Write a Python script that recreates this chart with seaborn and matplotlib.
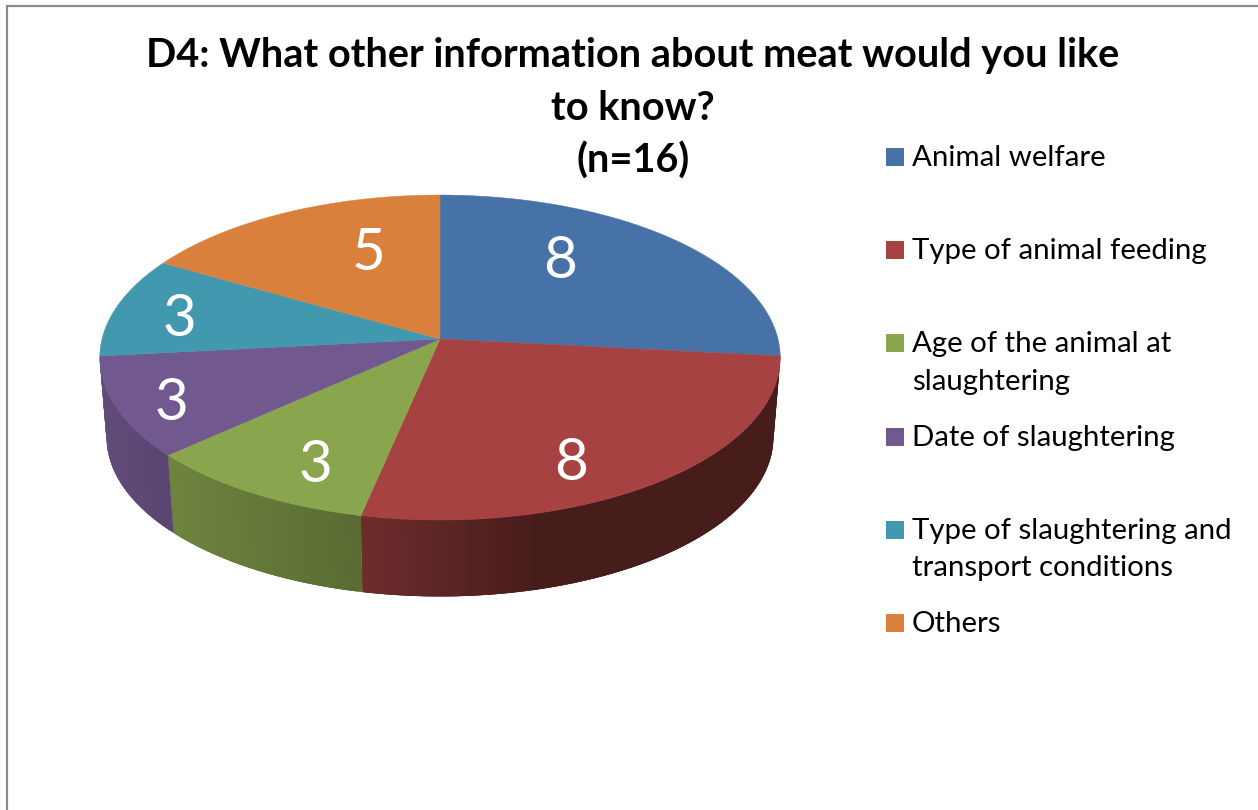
import numpy as np
import matplotlib
matplotlib.use("Agg")
import matplotlib.pyplot as plt
from matplotlib.patches import Rectangle
import seaborn as sns

# ---- data ----
categories = ["Animal welfare", "Type of animal feeding",
              "Age of the animal at\nslaughtering", "Date of slaughtering",
              "Type of slaughtering and\ntransport conditions", "Others"]
values = [8, 8, 3, 3, 3, 5]
colors = ["#4672A8", "#A64342", "#89A54E", "#71588F", "#4198AF", "#D9813C"]
title_lines = ["D4: What other information about meat would you like", "to know?", "(n=16)"]

# ---- layout (pixels) ----
W, H = 1258, 810
CX, CY = 440, 339
A, B, K = 338, 160.4, 0.114
SHRINK, DROP = 0.98, 80
LABEL_XY = [(560, 261), (571, 463), (315, 466), (171, 403), (179, 319), (369, 253)]
SIDE_SHADE = [(0.5, 0.5), (0.66, 0.43), (0.80, 0.65), (0.85, 0.79), (0.8, 0.8), (0.7, 0.7)]
LEG_X, LEG_Y0, LEG_STEP = 886, 157, 93.2
TITLE_BASE, TITLE_STEP = 67, 53

sns.set_theme(style="white")
plt.rcParams["font.family"] = ["Lato", "DejaVu Sans"]
palette = sns.color_palette(colors)


def top_face(t):
    d = 1 + K * np.sin(t)
    return CX + A * np.cos(t) / d, CY - B * np.sin(t) / d


def bottom_face(t):
    x, y = top_face(t)
    return CX + SHRINK * (x - CX), CY + SHRINK * (y - CY) + DROP


fig = plt.figure(figsize=(W / 100, H / 100), dpi=100, facecolor="white")
ax = fig.add_axes([0, 0, 1, 1])
ax.set_xlim(0, W)
ax.set_ylim(H, 0)
ax.axis("off")

# chart frame
ax.plot([6.5, 6.5, W + 5], [H + 5, 5.5, 5.5], color="#8c8c8c", lw=1.6, solid_joinstyle="miter")

# slice angles, clockwise from twelve o'clock
edges = np.pi / 2 - 2 * np.pi * np.cumsum([0] + values) / sum(values)

# rim first, then the top face over it
for i, col in enumerate(palette):
    t0, t1 = edges[i], edges[i + 1]
    # only the front of the pie shows a rim
    lo = max(t1, -np.pi + 0.11)
    hi = min(t0, -0.1)
    if lo >= hi:
        continue
    ts = np.linspace(hi, lo, 71)
    xs = top_face(ts)[0]
    xmin, xmax = xs.min(), xs.max()
    for j in range(len(ts) - 1):
        # each band reaches a little past the next, which then paints over it
        seg = ts[j:min(j + 4, len(ts))]
        xt, yt = top_face(seg)
        xb, yb = bottom_face(seg)
        u = (top_face(ts[j])[0] + top_face(ts[j + 1])[0]) / 2
        u = (u - xmin) / max(xmax - xmin, 1)
        if i == 1:  # red rim darkens then stays flat
            u = min(u / 0.42, 1)
        left, right = SIDE_SHADE[i]
        f = left + (right - left) * u
        c = tuple(f * v for v in col)
        ax.fill(np.r_[xt, xb[::-1]], np.r_[yt, yb[::-1]], color=c, lw=0, zorder=2)

for i, col in enumerate(palette):
    ts = np.linspace(edges[i], edges[i + 1], 200)
    x, y = top_face(ts)
    ax.fill(np.r_[CX, x], np.r_[CY, y], color=col, lw=0.3, zorder=3)
    ax.text(*LABEL_XY[i], str(values[i]), color="white", fontsize=42,
            ha="center", va="center", zorder=4)

# title, one text per line
for k, line in enumerate(title_lines):
    ax.text(633, TITLE_BASE + k * TITLE_STEP, line, ha="center", va="baseline",
            fontsize=28.6, fontweight="bold", color="black", zorder=5)

# legend
for i, (name, col) in enumerate(zip(categories, palette)):
    yc = LEG_Y0 + i * LEG_STEP
    ax.add_patch(Rectangle((LEG_X, yc - 9), 18, 18, facecolor=col, edgecolor="none"))
    ax.text(912, yc - 12, name, ha="left", va="top", fontsize=21.2, color="black",
            linespacing=1.55)

fig.savefig("out.png", dpi=100, facecolor="white")
